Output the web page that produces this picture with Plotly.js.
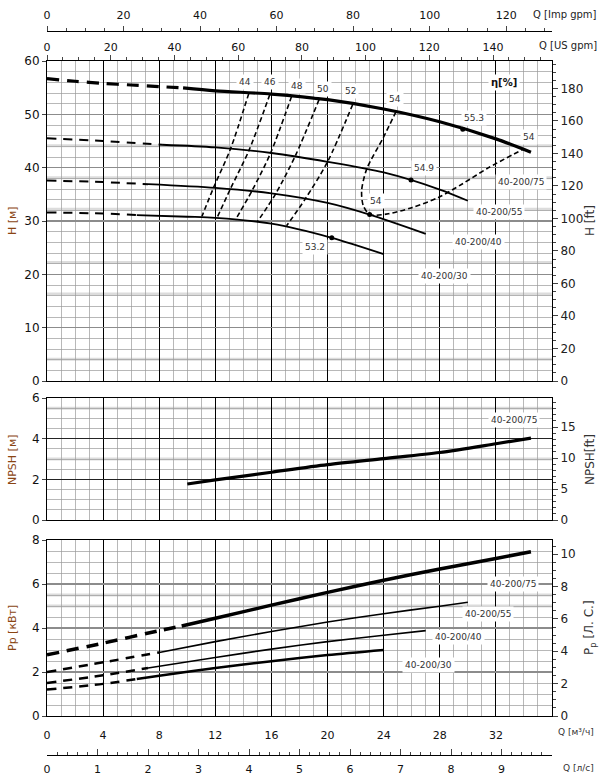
<!DOCTYPE html>
<html><head><meta charset="utf-8">
<script src="https://cdn.plot.ly/plotly-3.0.1.min.js"></script>
<style>body{margin:0;background:#fff}#c{width:603px;height:781px}</style>
</head><body><div id="c"></div>
<script>
// ---- data (Q in m3/h) ----
const q75H_d=[0,2,4,6,8,9.7], h75_d=[56.7,56.2,55.8,55.5,55.2,54.95];
const q75H=[9.7,12,16,20,24,28,32,34.5], h75=[54.95,54.4,53.8,52.75,51.0,48.6,45.4,42.9];
const q55H_d=[0,4,8.2], h55_d=[45.5,45.0,44.3];
const q55H=[8.2,12,16,20,24,28,30], h55=[44.3,43.8,42.75,41.1,39.1,35.9,33.8];
const q40H_d=[0,4,7.2], h40_d=[37.6,37.3,36.9];
const q40H=[7.2,12,16,20,23,27], h40=[36.9,36.2,35.2,33.4,31.2,27.6];
const q30H_d=[0,4,6.4], h30_d=[31.6,31.4,31.1];
const q30H=[6.4,10,12,16,20.3,24], h30=[31.1,30.8,30.6,29.5,26.85,23.8];
const effPtQ=[29.64,25.95,23.0,20.3], effPtH=[47.2,37.7,31.2,26.85];
const eff44Q=[14.39,13.07,11.88,11.05], eff44H=[53.95,43.45,36.3,30.9];
const eff46Q=[15.89,14.39,13.07,12.12], eff46H=[53.75,43.2,36.0,30.6];
const eff48Q=[17.44,15.94,14.6,13.43], eff48H=[53.4,42.75,35.6,30.2];
const eff50Q=[19.4,17.7,16.3,14.98], eff50H=[52.8,42.2,35.1,29.8];
const eff52Q=[21.8,20.0,18.4,17.08], eff52H=[51.9,41.1,34.1,29.1];
const eff54Q=[24.88,23.98,22.79,22.43,22.55,23.02,24.33,26.0,27.9,29.57,31.48,33.9];
const eff54H=[50.5,45.67,39.73,35.67,32.85,31.2,31.35,32.5,34.4,36.9,40.0,43.4];
const qN=[10,12,16,20,24,28,32,34.5], npsh=[1.77,1.97,2.35,2.72,3.02,3.32,3.75,4.03];
const q75P_d=[0,4,8,9.6], p75_d=[2.78,3.31,3.88,4.09];
const q75P=[9.6,12,16,20,24,28,32,34.5], p75=[4.09,4.44,5.04,5.62,6.17,6.68,7.16,7.47];
const q55P_d=[0,4,8], p55_d=[2.0,2.44,2.89];
const q55P=[8,12,16,20,24,28,30], p55=[2.89,3.38,3.84,4.27,4.65,4.99,5.17];
const q40P_d=[0,4,7.2], p40_d=[1.5,1.85,2.18];
const q40P=[7.2,12,16,20,24,27], p40=[2.18,2.66,3.04,3.38,3.67,3.88];
const q30P_d=[0,4,6.4], p30_d=[1.2,1.46,1.68];
const q30P=[6.4,8,12,16,20,24], p30=[1.68,1.83,2.18,2.49,2.77,3.0];
const qTicks=[0,4,8,12,16,20,24,28,32];
const lsTicks=[0,1,2,3,4,5,6,7,8,9];
const QMAX=36;

const F='DejaVu Sans';
const traces=[];
function ln(x,y,xa,ya,w,dash){traces.push({x:x,y:y,xaxis:xa,yaxis:ya,mode:'lines',
  line:{color:'#000',width:w,dash:dash||'solid',shape:'spline',smoothing:0.8},hoverinfo:'skip'});}
// H panel
ln(q75H_d,h75_d,'x2','y',3.2,'12px,8px'); ln(q75H,h75,'x2','y',3.2);
ln(q55H_d,h55_d,'x2','y',2,'9px,7px'); ln(q55H,h55,'x2','y',1.8);
ln(q40H_d,h40_d,'x2','y',2,'9px,7px'); ln(q40H,h40,'x2','y',1.8);
ln(q30H_d,h30_d,'x2','y',2,'9px,7px'); ln(q30H,h30,'x2','y',1.8);
[[eff44Q,eff44H],[eff46Q,eff46H],[eff48Q,eff48H],[eff50Q,eff50H],[eff52Q,eff52H],[eff54Q,eff54H]]
  .forEach(e=>ln(e[0],e[1],'x2','y',1.6,'5px,3px'));
traces.push({x:effPtQ,y:effPtH,xaxis:'x2',yaxis:'y',mode:'markers',marker:{color:'#000',size:5},hoverinfo:'skip'});
// NPSH
ln(qN,npsh,'x3','y2',3.2);
// Power
ln(q75P_d,p75_d,'x','y3',3.5,'12px,8px'); ln(q75P,p75,'x','y3',3.5);
ln(q55P_d,p55_d,'x','y3',2.5,'9px,7px'); ln(q55P,p55,'x','y3',1.6);
ln(q40P_d,p40_d,'x','y3',2.5,'9px,7px'); ln(q40P,p40,'x','y3',1.6);
ln(q30P_d,p30_d,'x','y3',2.5,'9px,7px'); ln(q30P,p30,'x','y3',2.5);
// dummy traces for extra axes
[['x4','y'],['x5','y'],['x6','y3'],['x2','y4'],['x3','y5'],['x','y6']].forEach(p=>
  traces.push({x:[0],y:[0],xaxis:p[0],yaxis:p[1],mode:'markers',marker:{opacity:0,size:1},hoverinfo:'skip'}));

const T=5,B=5,H=781;
const py=p=>(H-B-p)/(H-T-B);
const px=p=>(p-47)/505;
const tf={family:F,size:11,color:'#111'};
const qx={range:[0,QMAX],tickmode:'array',tickvals:qTicks,showgrid:true,gridcolor:'#000',gridwidth:1.1,
  minor:{tickmode:'linear',tick0:0,dtick:1,showgrid:true,gridcolor:'#9a9a9a',gridwidth:0.7},
  showline:true,linecolor:'#000',linewidth:1,mirror:true,zeroline:false,tickfont:tf};
const layout={width:603,height:781,margin:{l:47,r:51,t:T,b:B},paper_bgcolor:'#fff',plot_bgcolor:'#fff',
  showlegend:false,font:{family:F,size:11,color:'#111'},
  xaxis:Object.assign({},qx,{anchor:'y3',domain:[0,1],ticks:'outside',ticklen:9,tickcolor:'rgba(0,0,0,0)'}),
  xaxis2:Object.assign({},qx,{anchor:'y',matches:'x',showticklabels:false,ticks:''}),
  xaxis3:Object.assign({},qx,{anchor:'y2',matches:'x',showticklabels:false,ticks:''}),
  xaxis4:{overlaying:'x2',side:'top',anchor:'y',range:[0,QMAX*4.402868],dtick:20,ticks:'outside',ticklen:5,
    minor:{dtick:5,ticks:'outside',ticklen:3,showgrid:false},showgrid:false,zeroline:false,showline:false,tickfont:tf},
  xaxis5:{overlaying:'x2',side:'top',anchor:'free',position:py(31),range:[0,QMAX*3.666154],dtick:20,ticks:'outside',ticklen:5,
    ticklabelstandoff:3,
    minor:{dtick:5,ticks:'outside',ticklen:3,showgrid:false},showgrid:false,zeroline:false,showline:true,linecolor:'#000',tickfont:tf},
  xaxis6:{overlaying:'x',side:'bottom',anchor:'free',position:py(755),range:[0,QMAX/3.6],tickmode:'array',tickvals:lsTicks,
    ticks:'inside',ticklen:6,ticklabelstandoff:4,minor:{tickmode:'linear',tick0:0,dtick:0.2,ticks:'inside',ticklen:3,showgrid:false},
    showgrid:false,zeroline:false,showline:true,linecolor:'#000',tickfont:tf},
  yaxis:{domain:[py(381),py(61)],anchor:'x2',range:[0,60],dtick:10,ticks:'outside',ticklen:4,
    gridcolor:'#8c8c8c',gridwidth:1.6,minor:{dtick:2,showgrid:true,gridcolor:'#9a9a9a',gridwidth:0.7},
    showline:true,linecolor:'#000',zeroline:false,tickfont:{family:F,size:12,color:'#111'}},
  yaxis2:{domain:[py(520),py(398)],anchor:'x3',range:[0,6],dtick:2,ticks:'outside',ticklen:4,
    gridcolor:'#222',gridwidth:1,minor:{dtick:0.5,showgrid:true,gridcolor:'#9a9a9a',gridwidth:0.7},
    showline:true,linecolor:'#000',zeroline:false,tickfont:{family:F,size:12,color:'#111'}},
  yaxis3:{domain:[py(716),py(540)],anchor:'x',range:[0,8],dtick:2,ticks:'outside',ticklen:4,
    gridcolor:'#8c8c8c',gridwidth:1.6,minor:{dtick:0.5,showgrid:true,gridcolor:'#9a9a9a',gridwidth:0.7},
    showline:true,linecolor:'#000',zeroline:false,tickfont:{family:F,size:12,color:'#111'}},
  yaxis4:{overlaying:'y',side:'right',anchor:'x2',range:[0,60/0.3048],dtick:20,ticks:'outside',ticklen:5,
    minor:{dtick:5,ticks:'outside',ticklen:3,showgrid:false},showgrid:false,zeroline:false,showline:true,linecolor:'#000',
    tickfont:{family:F,size:12,color:'#222'}},
  yaxis5:{overlaying:'y2',side:'right',anchor:'x3',range:[0,6/0.3048],dtick:5,ticks:'outside',ticklen:5,
    minor:{dtick:1,ticks:'outside',ticklen:3,showgrid:false},showgrid:false,zeroline:false,showline:true,linecolor:'#000',
    tickfont:{family:F,size:12,color:'#222'}},
  yaxis6:{overlaying:'y3',side:'right',anchor:'x',range:[0,8*1.35962],dtick:2,ticks:'outside',ticklen:5,
    minor:{dtick:0.5,ticks:'outside',ticklen:3,showgrid:false},showgrid:false,zeroline:false,showline:true,linecolor:'#000',
    tickfont:{family:F,size:12,color:'#222'}},
  shapes:[],annotations:[]
};
const hl=(ya,v,c,w,layer)=>layout.shapes.push({type:'line',xref:'paper',x0:0,x1:1,yref:ya,y0:v,y1:v,
  line:{color:c,width:w},layer:layer});
[4.1,16.3,22.2,32.2,38.1,44.1].forEach(v=>hl('y',v,'#dcdcdc',3,'below'));
[3.0,5.5].forEach(v=>hl('y2',v,'#dcdcdc',3,'below'));
[5.0,5.5].forEach(v=>hl('y3',v,'#dcdcdc',3,'below'));
hl('y',30,'#000',1.2,'between');
hl('y3',2,'#000',1.2,'between');

const lab=(t,x,y,xa,ya,o)=>layout.annotations.push(Object.assign({text:t,x:x,y:y,xref:xa,yref:ya,showarrow:false,
  xanchor:'center',yanchor:'middle',font:{family:F,size:9,color:'#333'},bgcolor:'#fff',borderpad:2},o||{}));
lab('44',14.14,56.06,'x2','y'); lab('46',15.93,56.06,'x2','y'); lab('48',17.79,55.31,'x2','y');
lab('50',19.71,54.75,'x2','y'); lab('52',21.64,54.38,'x2','y'); lab('54',24.79,52.88,'x2','y');
lab('55.3',30.43,49.31,'x2','y'); lab('54',34.36,45.75,'x2','y'); lab('54.9',26.86,39.94,'x2','y');
lab('54',23.43,33.75,'x2','y'); lab('53.2',19.1,25.1,'x2','y');
lab('<b>η[%]</b>',32.57,56.06,'x2','y',{font:{family:F,size:10,color:'#111'}});
lab('40-200/75',33.79,37.31,'x2','y'); lab('40-200/55',32.21,31.69,'x2','y');
lab('40-200/40',30.79,26.06,'x2','y'); lab('40-200/30',28.36,19.69,'x2','y');
lab('40-200/75',33.29,4.92,'x3','y2');
lab('40-200/75',33.2,6.0,'x','y3'); lab('40-200/55',31.43,4.64,'x','y3');
lab('40-200/40',29.36,3.59,'x','y3'); lab('40-200/30',27.21,2.32,'x','y3');
const brown='#8a4513';
const ttl=(t,x,y,c,s,o)=>layout.annotations.push(Object.assign({text:t,x:x,y:y,xref:'paper',yref:'paper',showarrow:false,
  xanchor:'center',yanchor:'middle',textangle:-90,font:{family:F,size:s,color:c}},o||{}));
ttl('H [м]',px(12),py(221),brown,11); ttl('H [ft]',px(590),py(221),'#333',12);
ttl('NPSH [м]',px(12),py(460),brown,11); ttl('NPSH[ft]',px(590),py(460),'#333',12);
ttl('Pp [кВт]',px(12),py(628),brown,11); ttl('P<sub>p</sub> [Л. С.]',px(590),py(628),'#333',12);
ttl('Q [Imp gpm]',px(599),py(15),'#222',10,{textangle:0,xanchor:'right'});
ttl('Q [US gpm]',px(599),py(45),'#222',10,{textangle:0,xanchor:'right'});
ttl('Q [м³/ч]',px(596),py(732),'#333',9,{textangle:0,xanchor:'right'});
ttl('Q [л/с]',px(596),py(768),'#333',9,{textangle:0,xanchor:'right'});

Plotly.newPlot('c',traces,layout,{staticPlot:true});
</script></body></html>
